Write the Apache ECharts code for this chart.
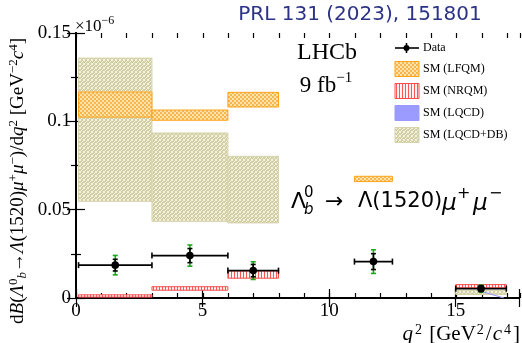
<!DOCTYPE html>
<html><head><meta charset="utf-8">
<script src="https://cdn.jsdelivr.net/npm/echarts@6/dist/echarts.min.js"></script>
<style>html,body{margin:0;padding:0;background:#fff}#c{width:522px;height:343px}</style>
</head><body><div id="c"></div>
<script>
// ---------- data ----------
const dataQ2Center = [1.55, 4.5, 7.0, 11.75, 16.0];
const dataQ2Lo = [0.1, 3.0, 6.0, 11.0, 15.0];
const dataQ2Hi = [3.0, 6.0, 8.0, 12.5, 17.0];
const dataValue = [0.0186, 0.0240, 0.0155, 0.0206, 0.0053];
const dataStatErr = [0.0033, 0.0040, 0.0035, 0.0045, 0.0015];
const dataTotErr = [0.0055, 0.0060, 0.0050, 0.0067, 0.0020];

const lfqmLo = [0.1, 3.0, 6.0, 11.0];
const lfqmHi = [3.0, 6.0, 8.0, 12.5];
const lfqmMin = [0.1024, 0.1006, 0.1081, 0.0659];
const lfqmMax = [0.1166, 0.1064, 0.1164, 0.0689];

const nrqmLo = [0.1, 3.0, 6.0, 15.0];
const nrqmHi = [3.0, 6.0, 8.0, 17.0];
const nrqmMin = [0.0005, 0.0044, 0.0112, 0.0058];
const nrqmMax = [0.0018, 0.0064, 0.0154, 0.0076];

const lqcddbLo = [0.1, 3.0, 6.0, 15.0];
const lqcddbHi = [3.0, 6.0, 8.0, 17.0];
const lqcddbMin = [0.0547, 0.0434, 0.0425, 0.0020];
const lqcddbMax = [0.1358, 0.0934, 0.0802, 0.0042];

const lqcdQ2 = [16.0, 16.9];
const lqcdValue = [0.0038, 0.0];

const xTickLabels = [0, 5, 10, 15];
const yTickLabels = [0, 0.05, 0.1, 0.15];
const legendNames = ['Data', 'SM (LFQM)', 'SM (NRQM)', 'SM (LQCD)', 'SM (LQCD+DB)'];

// ---------- styles ----------
function makePattern(w, h, draw) {
  const c = document.createElement('canvas'); c.width = w; c.height = h;
  const ctx = c.getContext('2d'); draw(ctx);
  return { image: c, repeat: 'repeat' };
}
const patLFQM = makePattern(4, 4, ctx => {
  ctx.fillStyle = '#fde3aa'; ctx.fillRect(0, 0, 4, 4);
  ctx.fillStyle = '#f6b650'; ctx.fillRect(0, 0, 2, 2); ctx.fillRect(2, 2, 2, 2);
});
const patNRQM = makePattern(3, 3, ctx => {
  ctx.fillStyle = '#fff3f3'; ctx.fillRect(0, 0, 3, 3);
  ctx.fillStyle = '#ff5555'; ctx.fillRect(0, 0, 1, 3);
});
const patDB = makePattern(4, 4, ctx => {
  ctx.fillStyle = '#d2cfa2'; ctx.fillRect(0, 0, 4, 4);
  ctx.fillStyle = '#f3f1e2';
  ctx.fillRect(0, 0, 1, 1); ctx.fillRect(2, 1, 1, 1); ctx.fillRect(1, 2, 1, 1); ctx.fillRect(3, 3, 1, 1);
  ctx.fillRect(3, 0, 1, 1); ctx.fillRect(0, 3, 1, 1);
});
const ORANGE = '#ffa31a', RED = '#ff4d4d', BLUE = '#9a9aff', OLIVE_EDGE = '#d6d3ad', GREEN = '#1fa51f';

function bandData(lo, hi, mn, mx) { return lo.map((v, i) => [v, hi[i], mn[i], mx[i]]); }
function bandRender(fill, stroke) {
  return function (params, api) {
    const p1 = api.coord([api.value(0), api.value(3)]);
    const p2 = api.coord([api.value(1), api.value(2)]);
    return { type: 'rect', shape: { x: p1[0], y: p1[1], width: p2[0] - p1[0], height: p2[1] - p1[1] },
      style: { fill: fill, stroke: stroke, lineWidth: 1 } };
  };
}
function dataRender(params, api) {
  const xc = api.value(0), v = api.value(1), lo = api.value(2), hi = api.value(3), st = api.value(4), tt = api.value(5);
  const c = api.coord([xc, v]);
  const pl = api.coord([lo, v]), ph = api.coord([hi, v]);
  const ts = api.coord([xc, v + st]), bs = api.coord([xc, v - st]);
  const tt1 = api.coord([xc, v + tt]), bt = api.coord([xc, v - tt]);
  const blk = { stroke: '#000', lineWidth: 1.6 };
  const grn = { stroke: GREEN, lineWidth: 1.6 };
  const L = (x1, y1, x2, y2, s) => ({ type: 'line', shape: { x1, y1, x2, y2 }, style: s });
  return { type: 'group', children: [
    L(c[0], tt1[1], c[0], bt[1], grn),
    L(c[0] - 2.5, tt1[1], c[0] + 2.5, tt1[1], grn),
    L(c[0] - 2.5, bt[1], c[0] + 2.5, bt[1], grn),
    L(pl[0], c[1], ph[0], c[1], blk),
    L(pl[0], c[1] - 3, pl[0], c[1] + 3, blk),
    L(ph[0], c[1] - 3, ph[0], c[1] + 3, blk),
    L(c[0], ts[1], c[0], bs[1], blk),
    L(c[0] - 2.5, ts[1], c[0] + 2.5, ts[1], blk),
    L(c[0] - 2.5, bs[1], c[0] + 2.5, bs[1], blk),
    { type: 'circle', shape: { cx: c[0], cy: c[1], r: 3.8 }, style: { fill: '#000' } }
  ] };
}

const SERIF = 'Liberation Serif';
const axisLineStyle = { color: '#000', width: 2 };
function xAxisDef(gridIndex, pos, interval, tickLen, labels) {
  return { type: 'value', gridIndex, position: pos, min: 0, max: 17.5, interval,
    axisLine: { show: interval === 5, lineStyle: axisLineStyle },
    axisTick: { show: true, inside: true, length: tickLen, lineStyle: { color: '#000', width: 1.2 } },
    splitLine: { show: false },
    axisLabel: { show: labels, margin: 4, fontFamily: SERIF, fontSize: 19, color: '#000',
      formatter: v => (xTickLabels.indexOf(v) >= 0 ? String(v) : '') } };
}
function yAxisDef(pos, labels) {
  return { type: 'value', gridIndex: 0, position: pos, min: 0, max: 0.15, interval: 0.05,
    axisLine: { show: true, lineStyle: axisLineStyle },
    axisTick: { show: true, inside: true, length: 9, lineStyle: { color: '#000', width: 1.2 } },
    minorTick: { show: true, splitNumber: 2, length: 5, lineStyle: { color: '#000', width: 1.2 } },
    splitLine: { show: false },
    axisLabel: { show: labels, margin: 5, fontFamily: SERIF, fontSize: 19, color: '#000',
      formatter: v => { const f = yTickLabels.find(t => Math.abs(t - v) < 1e-9); return f === undefined ? '' : String(f); } } };
}

// ---------- legend graphics ----------
const legX = 395, legW = 24, legTextX = 423;
const legY = [48, 69, 91, 113, 135];
const legFills = [null, [patLFQM, ORANGE], [patNRQM, RED], [BLUE, BLUE], [patDB, OLIVE_EDGE]];
const graphics = [];
legendNames.forEach((name, i) => {
  const y = legY[i];
  if (i === 0) {
    graphics.push({ type: 'line', shape: { x1: legX, y1: y, x2: legX + legW, y2: y }, style: { stroke: '#000', lineWidth: 1.6 } });
    graphics.push({ type: 'line', shape: { x1: legX + 11.5, y1: y - 5, x2: legX + 11.5, y2: y + 5 }, style: { stroke: '#000', lineWidth: 1.6 } });
    graphics.push({ type: 'circle', shape: { cx: legX + 11.5, cy: y, r: 3 }, style: { fill: '#000' } });
  } else {
    graphics.push({ type: 'rect', shape: { x: legX, y: y - 7.5, width: legW, height: 15 },
      style: { fill: legFills[i][0], stroke: legFills[i][1], lineWidth: 1 } });
  }
  graphics.push({ type: 'text', x: legTextX, y: y, style: { text: name, font: '12px "Liberation Serif"', fill: '#000', verticalAlign: 'middle' } });
});

// title
graphics.push({ type: 'text', x: 360, y: 15, style: { text: 'PRL 131 (2023), 151801', font: '20px "DejaVu Sans"', fill: '#2c3386', align: 'center', verticalAlign: 'middle' } });
// x10^-6
graphics.push({ type: 'text', x: 75, y: 25, style: { text: '{a|×10}{s|−6}', verticalAlign: 'middle',
  rich: { a: { fontFamily: SERIF, fontSize: 17, lineHeight: 20, verticalAlign: 'bottom', fill: '#000' },
          s: { fontFamily: SERIF, fontSize: 12, lineHeight: 12, verticalAlign: 'top', fill: '#000' } } } });
// LHCb
graphics.push({ type: 'text', x: 327, y: 53, style: { text: 'LHCb', font: '24px "Liberation Serif"', fill: '#000', align: 'center', verticalAlign: 'middle' } });
graphics.push({ type: 'text', x: 326, y: 84, style: { text: '{a|9 fb}{s|−1}', align: 'center', verticalAlign: 'middle',
  rich: { a: { fontFamily: SERIF, fontSize: 23, lineHeight: 26, verticalAlign: 'bottom', fill: '#000' },
          s: { fontFamily: SERIF, fontSize: 15, lineHeight: 15, verticalAlign: 'top', fill: '#000' } } } });
// decay label: pieces placed along the baseline
const decayPieces = [
  { t: 'Λ', x: 291, y: 202, f: '22px "DejaVu Sans"' },
  { t: '0', x: 304, y: 193, f: '15px "DejaVu Sans"' },
  { t: 'b', x: 304, y: 210, f: 'italic 15px "DejaVu Sans"' },
  { t: '→', x: 325, y: 202, f: '22px "DejaVu Sans"' },
  { t: 'Λ(1520)', x: 358, y: 202, f: '21px "DejaVu Sans"' },
  { t: 'μ', x: 442, y: 204, f: 'italic 23px "DejaVu Sans"' },
  { t: '+', x: 457, y: 194, f: '16px "DejaVu Sans"' },
  { t: 'μ', x: 473, y: 204, f: 'italic 23px "DejaVu Sans"' },
  { t: '−', x: 489, y: 194, f: '16px "DejaVu Sans"' }
];
decayPieces.forEach(p => graphics.push({ type: 'text', x: p.x, y: p.y, style: { text: p.t, font: p.f, fill: '#000', verticalAlign: 'middle' } }));
// x axis name
graphics.push({ type: 'text', x: 520, y: 334, style: { text: '{i|q}{s|2}{a| [GeV}{s|2}{a|/}{i|c}{s|4}{a|]}', align: 'right', verticalAlign: 'middle',
  rich: { a: { fontFamily: SERIF, fontSize: 21, lineHeight: 22, verticalAlign: 'bottom', fill: '#000' },
          i: { fontFamily: SERIF, fontStyle: 'italic', fontSize: 21, lineHeight: 22, verticalAlign: 'bottom', fill: '#000', padding: [0, 1, 0, 1] },
          s: { fontFamily: SERIF, fontSize: 14, lineHeight: 13, verticalAlign: 'top', fill: '#000', padding: [0, 2, 0, 1] } } } });
// y axis name (rotated)
graphics.push({ type: 'text', x: 18, y: 181, rotation: Math.PI / 2, style: {
  text: '{a|d}{i|B}{a|(}{i|Λ}{s|0}{b|b}{a|→}{i|Λ}{a|(1520)}{i|μ}{s|+}{i|μ}{s|−}{a|)/d}{i|q}{s|2}{a| [GeV}{s|−2}{i|c}{s|4}{a|]}',
  align: 'center', verticalAlign: 'middle',
  rich: { a: { fontFamily: SERIF, fontSize: 19, lineHeight: 22, verticalAlign: 'middle', fill: '#000' },
          i: { fontFamily: SERIF, fontStyle: 'italic', fontSize: 19, lineHeight: 22, verticalAlign: 'middle', fill: '#000' },
          s: { fontFamily: SERIF, fontSize: 13, lineHeight: 12, verticalAlign: 'top', fill: '#000' },
          b: { fontFamily: SERIF, fontStyle: 'italic', fontSize: 13, lineHeight: 12, verticalAlign: 'bottom', fill: '#000' } } } });

const chart = echarts.init(document.getElementById('c'), null, { renderer: 'canvas' });
chart.setOption({
  animation: false,
  backgroundColor: '#fff',
  grid: [{ left: 76, right: 2, top: 33, bottom: 45 }, { left: 76, right: 2, top: 33, bottom: 45 }],
  xAxis: [xAxisDef(0, 'bottom', 5, 9, true), xAxisDef(0, 'top', 5, 9, false),
          xAxisDef(1, 'bottom', 1, 5, false), xAxisDef(1, 'top', 1, 5, false)],
  yAxis: [yAxisDef('left', true), yAxisDef('right', false),
          { type: 'value', gridIndex: 1, min: 0, max: 0.15, show: false }],
  series: [
    { type: 'custom', name: 'SM (LQCD+DB)', xAxisIndex: 0, yAxisIndex: 0, renderItem: bandRender(patDB, OLIVE_EDGE),
      encode: { x: [0, 1], y: [2, 3] }, data: bandData(lqcddbLo, lqcddbHi, lqcddbMin, lqcddbMax), z: 1 },
    { type: 'custom', name: 'SM (LFQM)', xAxisIndex: 0, yAxisIndex: 0, renderItem: bandRender(patLFQM, ORANGE),
      encode: { x: [0, 1], y: [2, 3] }, data: bandData(lfqmLo, lfqmHi, lfqmMin, lfqmMax), z: 2 },
    { type: 'custom', name: 'SM (NRQM)', xAxisIndex: 0, yAxisIndex: 0, renderItem: bandRender(patNRQM, RED),
      encode: { x: [0, 1], y: [2, 3] }, data: bandData(nrqmLo, nrqmHi, nrqmMin, nrqmMax), z: 3 },
    { type: 'line', name: 'SM (LQCD)', xAxisIndex: 0, yAxisIndex: 0, showSymbol: false, symbol: 'none',
      lineStyle: { color: BLUE, width: 1.2 }, data: lqcdQ2.map((q, i) => [q, lqcdValue[i]]), z: 4 },
    { type: 'custom', name: 'Data', xAxisIndex: 0, yAxisIndex: 0, renderItem: dataRender,
      encode: { x: [0, 2, 3], y: 1 },
      data: dataQ2Center.map((q, i) => [q, dataValue[i], dataQ2Lo[i], dataQ2Hi[i], dataStatErr[i], dataTotErr[i]]), z: 5 }
  ],
  graphic: graphics
});
</script></body></html>
